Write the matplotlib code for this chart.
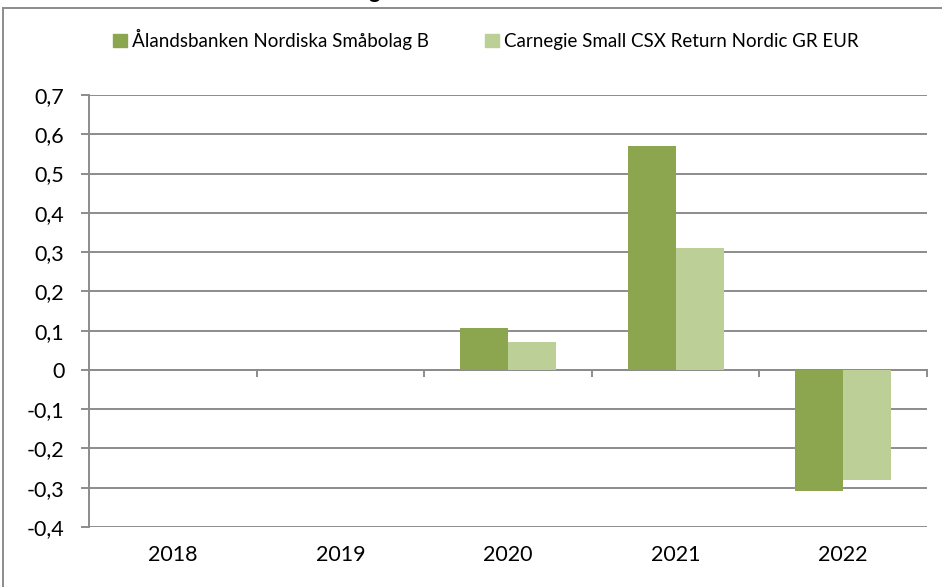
import matplotlib
matplotlib.use("Agg")
import numpy as np
import matplotlib.pyplot as plt
from matplotlib.lines import Line2D
from matplotlib.patches import Rectangle

plt.rcParams['font.family'] = ['Lato', 'DejaVu Sans']

# ============== data ==============
years = ['2018', '2019', '2020', '2021', '2022']
fund = [np.nan, np.nan, 0.107, 0.571, -0.308]
index = [np.nan, np.nan, 0.071, 0.311, -0.280]
series_names = ['Ålandsbanken Nordiska Småbolag B',
                'Carnegie Small CSX Return Nordic GR EUR']
yticks = [0.7, 0.6, 0.5, 0.4, 0.3, 0.2, 0.1, 0, -0.1, -0.2, -0.3, -0.4]

DARK = '#8BA64F'
LIGHT = '#BBCF96'
GRAY = '#8C8C8C'

fig = plt.figure(figsize=(9.42, 5.87), dpi=100)
ax = fig.add_axes([0.095, 0.1022, 0.889, 0.736])

x = np.arange(len(years))
w = 1 / 3.5
ax.bar(x - w / 2, fund, w, color=DARK, zorder=3)
ax.bar(x + w / 2, index, w, color=LIGHT, zorder=3)

ax.set_xlim(-0.5, len(years) - 0.5)
ax.set_ylim(-0.4, 0.7)
ax.set_yticks(yticks)
ax.set_yticklabels([('%g' % v).replace('.', ',') for v in yticks], fontsize=15.5)
ax.yaxis.grid(True, color=GRAY, linewidth=1.4, zorder=0)
ax.set_axisbelow(True)

ax.set_xticks(x)
ax.set_xticklabels(years, fontsize=15.5)
ax.tick_params(axis='x', length=0, pad=13)
ax.tick_params(axis='y', length=6, width=1.4, color=GRAY, pad=12)

for s in ['top', 'right', 'bottom']:
    ax.spines[s].set_visible(False)
ax.spines['left'].set_color(GRAY)
ax.spines['left'].set_linewidth(1.4)

# category axis at zero, ticks between categories
sec = ax.secondary_xaxis(0.4 / 1.1)
sec.set_xticks(np.arange(len(years) + 1) - 0.5)
sec.set_xticklabels([])
sec.tick_params(length=5, width=1.4, color=GRAY, direction='out')
sec.spines['bottom'].set_color(GRAY)
sec.spines['bottom'].set_linewidth(1.4)

# legend
handles = [Rectangle((0, 0), 1, 1, color=DARK), Rectangle((0, 0), 1, 1, color=LIGHT)]
fig.legend(handles, series_names, loc='center', bbox_to_anchor=(0.516, 0.932),
           ncol=2, frameon=False, fontsize=13.5, handlelength=0.7, handleheight=0.7,
           handletextpad=0.3, columnspacing=3.0)

# chart frame (cropped: only left and top edges visible)
fig.add_artist(Line2D([0.0035, 0.0035], [0, 0.986], color=GRAY, linewidth=1.4,
                      transform=fig.transFigure))
fig.add_artist(Line2D([0.0035, 1], [0.986, 0.986], color=GRAY, linewidth=1.4,
                      transform=fig.transFigure))
# cropped title, only a descender shows
fig.text(0.397, 1.003, 'g', fontsize=16, fontweight='bold', ha='center',
         va='baseline')

fig.savefig('out.png', dpi=100)
